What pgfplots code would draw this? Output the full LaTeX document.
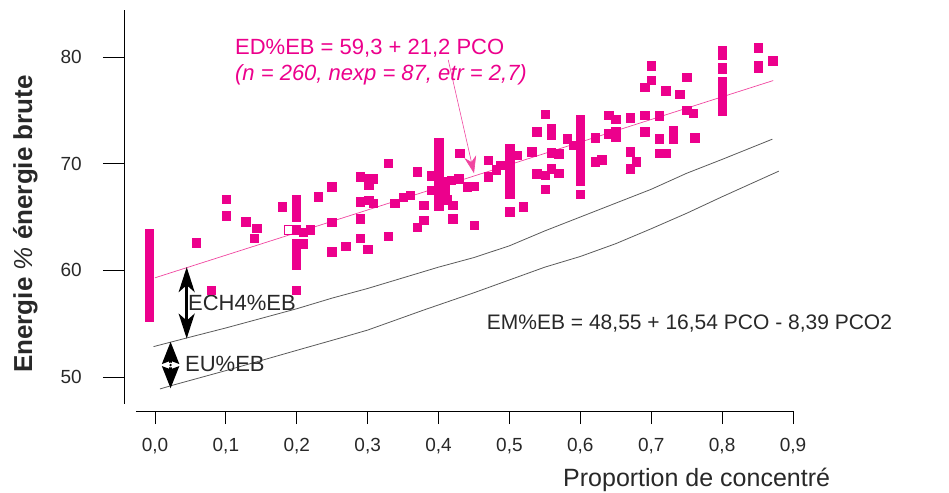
\documentclass[border=0pt]{standalone}
\usepackage{pgfplots}
\pgfplotsset{compat=1.18}
\usepackage{pgfplotstable}
\usepackage{fontspec}
\setmainfont{Liberation Sans}
\usetikzlibrary{arrows.meta}
\definecolor{mag}{RGB}{236,0,140}
\definecolor{magl}{RGB}{240,70,160}
\definecolor{dk}{RGB}{40,40,40}
\definecolor{ln}{RGB}{90,90,90}

\pgfplotstableread[row sep=\\]{
x y\\
-0.008 55.6\\ -0.008 56.1\\ -0.008 56.6\\ -0.008 57.1\\ -0.008 57.6\\ -0.008 58.1\\
-0.008 58.6\\ -0.008 59.1\\ -0.008 59.6\\ -0.008 60.1\\ -0.008 60.6\\ -0.008 61.1\\
-0.008 61.6\\ -0.008 62.1\\ -0.008 62.6\\ -0.008 63.1\\ -0.008 63.45\\
0.058 62.6\\ 0.079 58.16\\ 0.100 66.66\\ 0.100 65.12\\ 0.128 64.56\\ 0.143 63.94\\
0.140 63.0\\ 0.179 65.97\\
0.199 66.7\\ 0.199 65.9\\ 0.199 65.0\\ 0.199 63.8\\ 0.199 62.5\\ 0.199 61.65\\
0.199 61.1\\ 0.199 60.5\\ 0.199 58.16\\
0.209 63.6\\ 0.219 63.84\\ 0.209 62.5\\ 0.230 66.9\\ 0.249 67.84\\ 0.249 64.5\\
0.249 61.75\\ 0.269 62.28\\ 0.289 63.0\\ 0.300 61.97\\ 0.289 64.87\\ 0.289 68.78\\
0.301 68.6\\ 0.308 68.6\\ 0.301 68.0\\ 0.289 66.43\\ 0.301 66.6\\ 0.308 66.28\\
0.329 70.03\\ 0.329 63.2\\ 0.338 66.28\\ 0.350 66.85\\ 0.360 67.06\\ 0.370 69.25\\
0.379 66.1\\ 0.379 64.7\\ 0.370 64.03\\
0.400 72.0\\ 0.400 71.4\\ 0.400 70.8\\ 0.400 70.2\\ 0.400 69.6\\ 0.400 69.0\\
0.400 68.4\\ 0.400 67.8\\ 0.400 67.2\\ 0.400 66.6\\ 0.400 66.0\\
0.390 68.9\\ 0.390 67.5\\ 0.409 67.5\\ 0.411 66.65\\ 0.409 68.3\\ 0.420 66.1\\
0.420 64.87\\ 0.418 68.47\\ 0.428 68.6\\ 0.440 67.84\\ 0.450 67.9\\ 0.430 70.97\\
0.450 64.25\\ 0.470 70.34\\ 0.470 68.78\\ 0.481 69.46\\ 0.487 69.87\\
0.500 71.45\\ 0.500 70.9\\ 0.500 70.3\\ 0.500 69.7\\ 0.500 69.1\\ 0.500 68.5\\
0.500 67.9\\ 0.500 67.2\\ 0.500 65.5\\
0.510 70.8\\ 0.519 65.97\\ 0.531 71.12\\ 0.538 73.0\\ 0.538 69.09\\ 0.550 74.63\\
0.559 73.3\\ 0.559 72.7\\ 0.559 71.06\\ 0.569 70.96\\ 0.550 68.94\\ 0.559 69.56\\
0.569 69.1\\ 0.550 67.62\\ 0.581 72.37\\ 0.590 71.75\\
0.600 74.15\\ 0.600 73.6\\ 0.600 73.0\\ 0.600 72.4\\ 0.600 71.8\\ 0.600 71.2\\
0.600 70.6\\ 0.600 70.0\\ 0.600 69.4\\ 0.600 68.8\\ 0.600 68.4\\ 0.600 67.13\\
0.621 72.43\\ 0.621 70.18\\ 0.630 70.4\\ 0.640 74.56\\ 0.650 74.19\\ 0.640 72.84\\
0.650 73.0\\ 0.650 72.53\\ 0.670 74.31\\ 0.670 71.12\\ 0.679 70.18\\ 0.670 69.56\\
0.691 74.56\\ 0.691 73.0\\ 0.691 77.2\\ 0.700 77.84\\ 0.700 79.2\\ 0.711 74.5\\
0.711 72.37\\ 0.712 70.97\\ 0.721 70.97\\ 0.720 76.84\\ 0.731 73.16\\ 0.731 72.28\\
0.740 76.5\\ 0.750 78.1\\ 0.750 75.03\\ 0.759 74.72\\ 0.761 72.46\\
0.800 80.64\\ 0.800 80.23\\ 0.800 79.06\\ 0.800 78.92\\ 0.800 77.67\\ 0.800 77.2\\
0.800 76.7\\ 0.800 76.2\\ 0.800 75.7\\ 0.800 75.2\\ 0.800 74.98\\
0.851 80.87\\ 0.851 79.25\\ 0.851 78.94\\ 0.871 79.65\\
}\ptsdata

\pgfplotstableread[row sep=\\]{
x y\\
-0.002 52.85\\ 0.05 53.75\\ 0.1 54.6\\ 0.15 55.5\\ 0.2 56.4\\ 0.25 57.4\\ 0.3 58.3\\
0.35 59.3\\ 0.4 60.3\\ 0.45 61.2\\ 0.5 62.3\\ 0.55 63.7\\ 0.6 65.0\\ 0.65 66.3\\
0.7 67.6\\ 0.75 69.1\\ 0.8 70.4\\ 0.871 72.3\\
}\upperdata

\pgfplotstableread[row sep=\\]{
x y\\
0.007 48.88\\ 0.026 49.25\\ 0.1 50.6\\ 0.15 51.55\\ 0.2 52.5\\ 0.26 53.63\\ 0.3 54.4\\
0.38 56.3\\ 0.45 57.9\\ 0.5 59.1\\ 0.55 60.3\\ 0.6 61.3\\ 0.65 62.5\\ 0.7 63.9\\
0.75 65.35\\ 0.8 66.9\\ 0.88 69.3\\
}\lowerdata

\pgfplotstableread[row sep=\\]{
x y\\
0 59.3\\ 0.872 77.79\\
}\edfitdata

\begin{document}
\begin{tikzpicture}
\path[use as bounding box] (0,0) rectangle (949pt,-492pt);
\begin{axis}[
  at={(124pt,-411pt)}, anchor=south west,
  scale only axis, width=669pt, height=401pt,
  xmin=-0.04372, xmax=0.9, ymin=46.8125, ymax=84.406,
  axis line style={draw=none},
  tick pos=left, tick align=outside,
  xtick={0,0.1,0.2,0.3,0.4,0.5,0.6,0.7,0.8,0.9},
  xticklabels={{0,0},{0,1},{0,2},{0,3},{0,4},{0,5},{0,6},{0,7},{0,8},{0,9}},
  ytick={50,60,70,80},
  yticklabels={50,60,70,80},
  minor tick num=0,
  xtick style={/pgfplots/major tick length=13pt, line width=0.9pt, black},
  ytick style={/pgfplots/major tick length=21pt, line width=0.9pt, black},
  ticklabel style={font=\fontsize{19}{19}\selectfont, text=dk},
  xticklabel style={yshift=-19pt},
  yticklabel style={xshift=-34.5pt},
  clip=false,
]
\draw[line width=1pt] (axis cs:-0.04372,47.47) -- (axis cs:-0.04372,84.406);
\draw[line width=1pt] (axis cs:-0.0268,46.8125) -- (axis cs:0.9,46.8125);

\addplot[ln, line width=0.8pt] table[x=x,y=y] {\upperdata};
\addplot[ln, line width=0.8pt] table[x=x,y=y] {\lowerdata};
\addplot[magl, line width=0.7pt] table[x=x,y=y] {\edfitdata};
\addplot[only marks, mark=square*, mark size=4.25pt,
  mark options={fill=mag, draw=mag, line width=0.2pt}] table[x=x,y=y] {\ptsdata};
\addplot[only marks, mark=square, mark size=4.25pt,
  mark options={fill=white, draw=mag, line width=0.6pt}] coordinates {(0.188,63.78)};

\draw[line width=2.6pt, {Stealth[length=25pt,width=16pt,inset=7pt]}-{Stealth[length=25pt,width=16pt,inset=7pt]}]
  (axis cs:0.0447,60.3) -- (axis cs:0.0447,53.6);
\draw[line width=2.6pt, {Stealth[length=22pt,width=17pt,inset=3pt]}-{Stealth[length=22pt,width=17pt,inset=3pt]}]
  (axis cs:0.022,53.3) -- (axis cs:0.022,48.94);
\fill[white] (axis cs:0.022,51.12) ellipse (4.5pt and 2.4pt);
\fill[black] (axis cs:0.022,51.12) circle (1.3pt);

\draw[magl, line width=0.6pt, -{Stealth[length=17pt,width=12pt]}]
  (axis cs:0.4137,79.72) -- (axis cs:0.45,69.1);

\node[anchor=base west, inner sep=0, text=mag, font=\fontsize{22}{22}\selectfont]
  at (axis cs:0.1128,80.19) {ED\%EB = 59,3 + 21,2 PCO};
\node[anchor=base west, inner sep=0, text=mag, font=\fontsize{22}{22}\selectfont\itshape]
  at (axis cs:0.1128,77.84) {(n = 260, nexp = 87, etr = 2,7)};
\node[anchor=base west, inner sep=0, text=dk, font=\fontsize{21}{21}\selectfont]
  at (axis cs:0.468,54.5) {EM\%EB = 48,55 + 16,54 PCO - 8,39 PCO2};
\node[anchor=base west, inner sep=0, text=dk, font=\fontsize{22}{22}\selectfont]
  at (axis cs:0.0465,56.28) {ECH4\%EB};
\node[anchor=base west, inner sep=0, text=dk, font=\fontsize{22}{22}\selectfont]
  at (axis cs:0.0423,50.56) {EU\%EB};
\end{axis}
\node[rotate=90, anchor=base, inner sep=0, text=dk, font=\fontsize{26}{26}\selectfont\bfseries]
  at (32pt,-224pt) {Energie {\mdseries\itshape\%} énergie brute};
\node[anchor=base west, inner sep=0, text=dk, font=\fontsize{25}{25}\selectfont]
  at (563pt,-486pt) {Proportion de concentré};
\end{tikzpicture}
\end{document}
